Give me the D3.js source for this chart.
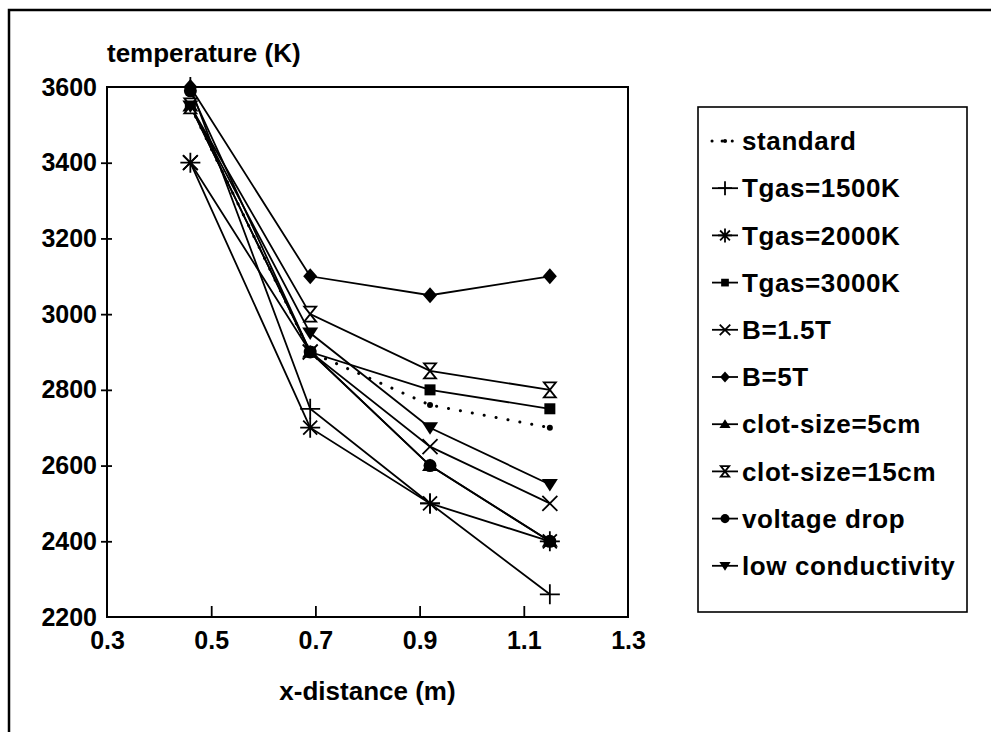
<!DOCTYPE html>
<html>
<head>
<meta charset="utf-8">
<script src="https://cdn.jsdelivr.net/npm/d3@7"></script>
<style>
  body { margin: 0; background: #fff; }
  svg { display: block; font-family: "Liberation Sans", Arial, sans-serif; font-weight: bold; }
</style>
</head>
<body>
<svg id="chart" width="991" height="732"></svg>
<script>
// Data
const xDistance = [0.46, 0.69, 0.92, 1.15];
const seriesNames = ['standard', 'Tgas=1500K', 'Tgas=2000K', 'Tgas=3000K', 'B=1.5T', 'B=5T',
  'clot-size=5cm', 'clot-size=15cm', 'voltage drop', 'low conductivity'];
const standard = [3550, 2900, 2760, 2700];
const tgas1500 = [3600, 2750, 2500, 2260];
const tgas2000 = [3400, 2700, 2500, 2400];
const tgas3000 = [3550, 2900, 2800, 2750];
const b15 = [3400, 2900, 2650, 2500];
const b5 = [3600, 3100, 3050, 3100];
const clot5 = [3550, 2900, 2600, 2400];
const clot15 = [3550, 3000, 2850, 2800];
const voltageDrop = [3590, 2900, 2600, 2400];
const lowCond = [3550, 2950, 2700, 2550];
const seriesValues = [standard, tgas1500, tgas2000, tgas3000, b15, b5, clot5, clot15, voltageDrop, lowCond];
const markerKinds = ['dot', 'plus', 'star', 'square', 'times', 'diamond', 'triUp', 'hourglass', 'circle', 'triDown'];
const xTicks = [0.3, 0.5, 0.7, 0.9, 1.1, 1.3];
const yTicks = [2200, 2400, 2600, 2800, 3000, 3200, 3400, 3600];

const svg = d3.select('#chart');
const plotL = 107, plotR = 628, plotT = 87, plotB = 617;
const lw = 1.8;

const x = d3.scaleLinear().domain([0.3, 1.3]).range([plotL, plotR]);
const y = d3.scaleLinear().domain([2200, 3600]).range([plotB, plotT]);

// outer frame (cut off at right and bottom)
svg.append('path')
  .attr('d', 'M9,732V10H991')
  .attr('fill', 'none').attr('stroke', '#000').attr('stroke-width', 2.5);

// plot frame
svg.append('rect')
  .attr('x', plotL).attr('y', plotT)
  .attr('width', plotR - plotL).attr('height', plotB - plotT)
  .attr('fill', 'none').attr('stroke', '#000').attr('stroke-width', 2);

// x axis: ticks pointing inward
const xAxis = svg.append('g').attr('transform', `translate(0,${plotB})`)
  .call(d3.axisBottom(x).tickValues(xTicks).tickSize(-11).tickPadding(14).tickFormat(d3.format('.1f')));
xAxis.select('.domain').remove();
xAxis.selectAll('.tick line').attr('stroke-width', lw)
  .filter(d => d === 0.3 || d === 1.3).remove();
xAxis.selectAll('text').attr('font-size', 25).attr('font-family', null).attr('font-weight', 'bold').attr('fill', '#000');

// y axis: short ticks across the axis line
const yAxis = svg.append('g').attr('transform', `translate(${plotL},0)`)
  .call(d3.axisLeft(y).tickValues(yTicks).tickSize(6).tickPadding(4).tickFormat(d3.format('d')));
yAxis.select('.domain').remove();
yAxis.selectAll('.tick line').attr('stroke-width', lw).attr('x1', 5)
  .filter(d => d === 2200 || d === 3600).remove();
yAxis.selectAll('text').attr('font-size', 25).attr('font-family', null).attr('font-weight', 'bold').attr('fill', '#000');

svg.append('text').attr('x', 107).attr('y', 62).attr('font-size', 26).text('temperature (K)');
svg.append('text').attr('x', (plotL + plotR) / 2).attr('y', 700).attr('font-size', 26)
  .attr('text-anchor', 'middle').text('x-distance (m)');

// marker shapes
function marker(g, kind, k) {
  switch (kind) {
    case 'dot':
      g.append('circle').attr('r', k * 0.3).attr('fill', '#000'); break;
    case 'plus':
      g.append('path').attr('d', `M${-k},0H${k}M0,${-k}V${k}`).attr('stroke', '#000').attr('stroke-width', lw); break;
    case 'times':
      g.append('path').attr('d', `M${-k * .75},${-k * .75}L${k * .75},${k * .75}M${-k * .75},${k * .75}L${k * .75},${-k * .75}`)
        .attr('stroke', '#000').attr('stroke-width', lw); break;
    case 'star':
      g.append('path').attr('d', `M${-k},0H${k}M0,${-k}V${k}M${-k * .7},${-k * .7}L${k * .7},${k * .7}M${-k * .7},${k * .7}L${k * .7},${-k * .7}`)
        .attr('stroke', '#000').attr('stroke-width', lw); break;
    case 'square':
      g.append('rect').attr('x', -k * .55).attr('y', -k * .55).attr('width', k * 1.1).attr('height', k * 1.1).attr('fill', '#000'); break;
    case 'diamond':
      g.append('path').attr('d', `M0,${-k * .8}L${k * .7},0L0,${k * .8}L${-k * .7},0Z`).attr('fill', '#000'); break;
    case 'triUp':
      g.append('path').attr('d', `M0,${-k * .7}L${k * .8},${k * .55}L${-k * .8},${k * .55}Z`).attr('fill', '#000'); break;
    case 'triDown':
      g.append('path').attr('d', `M0,${k * .7}L${k * .8},${-k * .55}L${-k * .8},${-k * .55}Z`).attr('fill', '#000'); break;
    case 'hourglass':
      g.append('path').attr('d', `M${-k * .6},${-k * .75}H${k * .6}L${-k * .6},${k * .75}H${k * .6}Z`)
        .attr('fill', '#fff').attr('stroke', '#000').attr('stroke-width', lw); break;
    case 'circle':
      g.append('circle').attr('r', k * .65).attr('fill', '#000'); break;
  }
}

const line = d3.line().x((d, i) => x(xDistance[i])).y(d => y(d));

const plot = svg.append('g');
seriesValues.forEach((vals, si) => {
  const p = plot.append('path').datum(vals)
    .attr('d', line).attr('fill', 'none').attr('stroke', '#000').attr('stroke-width', lw);
  if (si === 0) p.attr('stroke-dasharray', '0.1 12').attr('stroke-linecap', 'round').attr('stroke-width', 3);
});
seriesValues.forEach((vals, si) => {
  vals.forEach((v, i) => {
    const g = plot.append('g').attr('transform', `translate(${x(xDistance[i])},${y(v)})`);
    marker(g, markerKinds[si], 10);
  });
});

// legend
const legend = svg.append('g');
legend.append('rect').attr('x', 698).attr('y', 107).attr('width', 269).attr('height', 505)
  .attr('fill', 'none').attr('stroke', '#000').attr('stroke-width', 1.6);
seriesNames.forEach((name, i) => {
  const cy = 141 + i * 47.2;
  const row = legend.append('g').attr('transform', `translate(0,${cy})`);
  const l = row.append('path').attr('d', 'M712,0H738').attr('stroke', '#000').attr('stroke-width', lw);
  if (i === 0) l.attr('stroke-dasharray', '0.1 10').attr('stroke-linecap', 'round').attr('stroke-width', 3);
  const g = row.append('g').attr('transform', 'translate(725,0)');
  marker(g, markerKinds[i], 7);
  row.append('text').attr('x', 742).attr('y', 0).attr('dy', '0.35em')
    .attr('font-size', 26).attr('letter-spacing', 0.6).text(name);
});
</script>
</body>
</html>
